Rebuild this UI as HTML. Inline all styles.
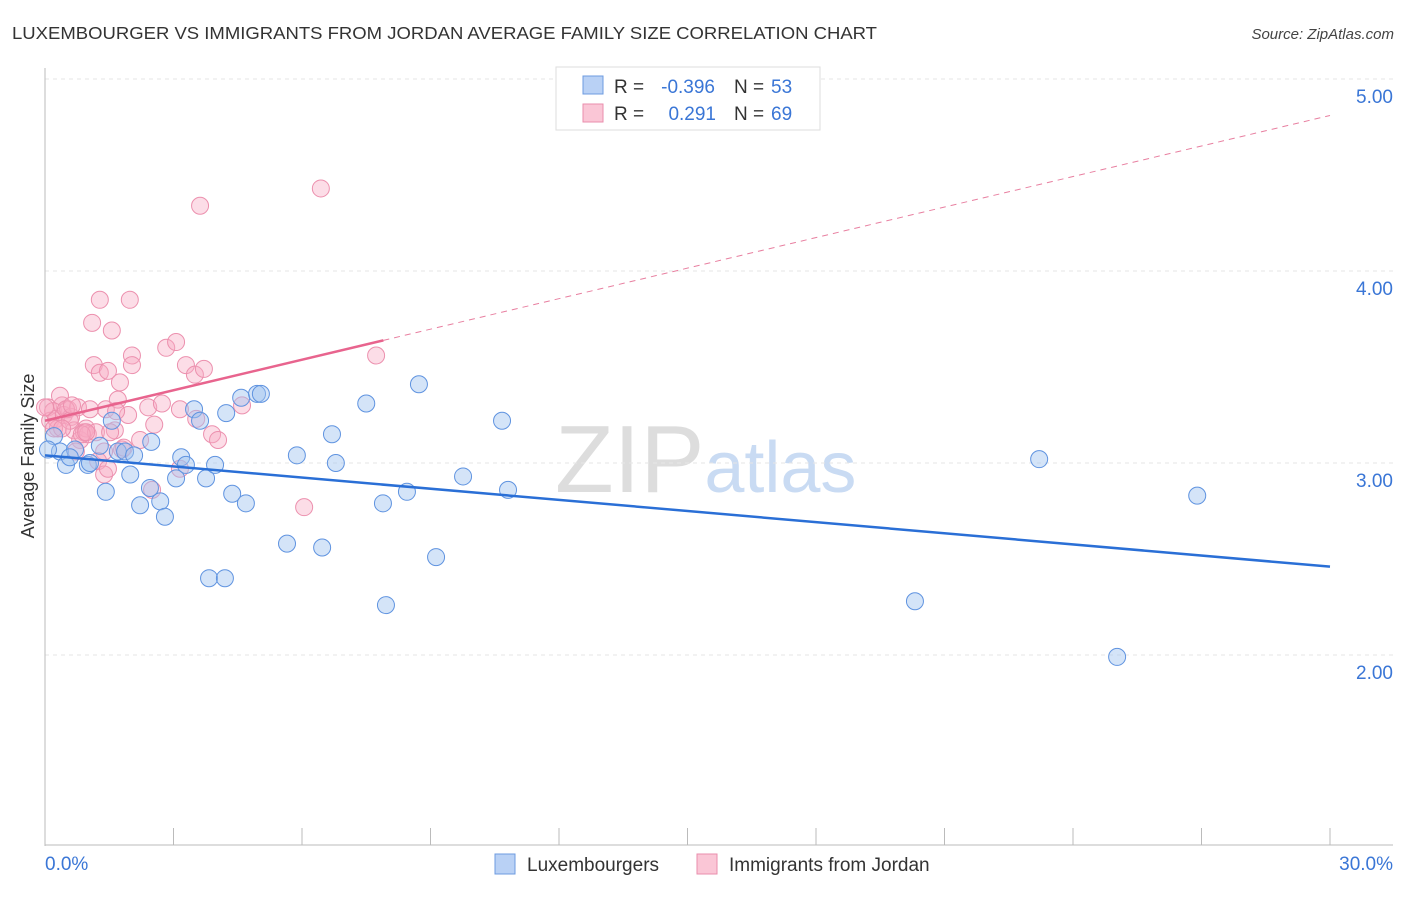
<!DOCTYPE html>
<html><head><meta charset="utf-8"><style>
body{margin:0;background:#fff;font-family:"Liberation Sans",sans-serif;}
svg text{font-family:"Liberation Sans",sans-serif;}
</style></head><body>
<svg id="chart" width="1406" height="892" xmlns="http://www.w3.org/2000/svg">
<text x="12" y="39" font-size="17.5" fill="#333" textLength="865" lengthAdjust="spacingAndGlyphs">LUXEMBOURGER VS IMMIGRANTS FROM JORDAN AVERAGE FAMILY SIZE CORRELATION CHART</text>
<text x="1394" y="39" font-size="15" fill="#444" font-style="italic" text-anchor="end">Source: ZipAtlas.com</text>
<text x="555" y="492" font-size="96" fill="#ddd" font-family="Liberation Serif">ZIP<tspan fill="#c9dbf3" font-family="Liberation Sans" font-size="72">atlas</tspan></text>
<g id="grid"></g><g id="axes"></g><g id="marks"></g>
<text transform="translate(34,456) rotate(-90)" font-size="18" fill="#333" text-anchor="middle">Average Family Size</text>
<g>
<rect x="556" y="67" width="264" height="63" fill="#fff" stroke="#ddd"/>
<rect x="583" y="76" width="20" height="18" fill="#b9d1f5" stroke="#6d9be0"/>
<rect x="583" y="104" width="20" height="18" fill="#fac6d6" stroke="#ea8eac"/>
<text x="614" y="93" font-size="19" fill="#333">R =</text>
<text x="715" y="93" font-size="19" fill="#3a76d6" text-anchor="end">-0.396</text>
<text x="734" y="93" font-size="19" fill="#333">N =</text>
<text x="771" y="93" font-size="19" fill="#3a76d6">53</text>
<text x="614" y="120" font-size="19" fill="#333">R =</text>
<text x="716" y="120" font-size="19" fill="#3a76d6" text-anchor="end">0.291</text>
<text x="734" y="120" font-size="19" fill="#333">N =</text>
<text x="771" y="120" font-size="19" fill="#3a76d6">69</text>
</g>
<g>
<rect x="495" y="854" width="20" height="20" fill="#b9d1f5" stroke="#6d9be0"/>
<text x="527" y="871" font-size="19" fill="#333">Luxembourgers</text>
<rect x="697" y="854" width="20" height="20" fill="#fac6d6" stroke="#ea8eac"/>
<text x="729" y="871" font-size="19" fill="#333">Immigrants from Jordan</text>
</g>
</svg>
<script>
const blueX=[0.21,0.35,0.49,0.70,1.00,1.28,1.42,1.56,1.70,1.87,1.99,2.08,2.22,2.48,2.69,2.80,3.06,3.18,3.29,3.48,3.76,3.97,4.23,4.37,4.58,4.69,4.95,5.04,3.83,4.20,5.65,5.88,6.47,6.70,6.79,7.50,7.89,7.96,8.45,8.73,9.13,9.76,10.67,10.81,20.31,23.21,25.03,26.90,0.07,0.58,1.05,2.45,3.62];
const blueY=[3.14,3.06,2.99,3.07,2.99,3.09,2.85,3.22,3.06,3.06,2.94,3.04,2.78,3.11,2.80,2.72,2.92,3.03,2.99,3.28,2.92,2.99,3.26,2.84,3.34,2.79,3.36,3.36,2.40,2.40,2.58,3.04,2.56,3.15,3.00,3.31,2.79,2.26,2.85,3.41,2.51,2.93,3.22,2.86,2.28,3.02,1.99,2.83,3.07,3.03,3.00,2.87,3.22];
const pinkX=[0.07,0.12,0.19,0.26,0.30,0.40,0.44,0.54,0.61,0.68,0.77,0.82,0.91,0.96,1.00,1.10,1.14,1.19,1.28,1.28,1.38,1.42,1.47,1.56,1.63,1.70,1.75,1.80,1.94,1.98,2.03,2.03,2.22,2.41,2.50,2.55,2.73,2.83,3.06,3.15,3.29,3.50,3.53,3.62,3.71,3.90,4.04,4.60,6.05,6.44,7.73,0.35,0.49,0.58,0.72,0.86,1.24,1.38,1.47,1.84,1.52,1.05,0.21,0.0,0.40,0.63,0.96,1.66,3.15];
const pinkY=[3.29,3.22,3.27,3.23,3.18,3.30,3.25,3.28,3.24,3.17,3.29,3.12,3.16,3.18,3.15,3.73,3.51,3.16,3.85,3.47,3.06,3.28,3.48,3.69,3.17,3.33,3.42,3.07,3.25,3.85,3.56,3.51,3.12,3.29,2.86,3.20,3.31,3.60,3.63,3.28,3.51,3.46,3.23,4.34,3.49,3.15,3.12,3.30,2.77,4.43,3.56,3.35,3.28,3.22,3.06,3.15,3.01,2.94,2.97,3.08,3.16,3.28,3.18,3.29,3.18,3.30,3.16,3.27,2.97];
const blueTrend=[3.04,2.46];
const pinkTrend=[3.22,4.81];
const pinkSolidEnd=7.9;
const yTicks=[2,3,4,5];
const yTickLabels=["2.00","3.00","4.00","5.00"];
const xTicks=[0,3,6,9,12,15,18,21,24,27,30];

const NS="http://www.w3.org/2000/svg";
const sx=v=>45+v/30*1285;
const sy=v=>463-(v-3)*192;
function mk(tag,attrs,parent){const e=document.createElementNS(NS,tag);for(const k in attrs)e.setAttribute(k,attrs[k]);parent.appendChild(e);return e;}
const grid=document.getElementById('grid'),axes=document.getElementById('axes'),marks=document.getElementById('marks');
yTicks.forEach((t,i)=>{
 const l=mk('line',{x1:45,x2:1393,y1:sy(t),y2:sy(t),stroke:'#e6e6e6','stroke-dasharray':'4,4'},grid);
 
 
 const tx=mk('text',{x:1393,y:sy(t)+24,'font-size':19,fill:'#3a76d6','text-anchor':'end'},axes);
 tx.textContent=yTickLabels[i];
 
 
});
const ya=mk('line',{x1:45,x2:45,y1:68,y2:846,stroke:'#bbb'},axes);


const xa=mk('line',{x1:45,x2:1393,y1:845,y2:845,stroke:'#bbb'},axes);


xTicks.forEach(t=>{
 const l=mk('line',{x1:sx(t),x2:sx(t),y1:828,y2:845,stroke:'#bbb'},axes);
 
 
});
const xl0=mk('text',{x:45,y:870,'font-size':19,fill:'#3a76d6'},axes);xl0.textContent=xTicks[0].toFixed(1)+'%';


const xl1=mk('text',{x:1393,y:870,'font-size':19,fill:'#3a76d6','text-anchor':'end'},axes);xl1.textContent=xTicks[xTicks.length-1].toFixed(1)+'%';



pinkX.forEach((x,i)=>{
 const c=mk('circle',{cx:sx(x),cy:sy(pinkY[i]),r:8.5,fill:'rgba(248,170,195,0.4)',stroke:'#ec90ae','stroke-width':1},marks);
 
 
});
blueX.forEach((x,i)=>{
 const c=mk('circle',{cx:sx(x),cy:sy(blueY[i]),r:8.5,fill:'rgba(160,195,240,0.45)',stroke:'#5f93e0','stroke-width':1},marks);
 
 
});
const pAt=x=>pinkTrend[0]+(pinkTrend[1]-pinkTrend[0])*x/30;
const pd=mk('line',{x1:sx(pinkSolidEnd),y1:sy(pAt(pinkSolidEnd)),x2:sx(30),y2:sy(pinkTrend[1]),stroke:'#e87fa0','stroke-width':1,'stroke-dasharray':'6,5'},marks);


const ps=mk('line',{x1:sx(0),y1:sy(pinkTrend[0]),x2:sx(pinkSolidEnd),y2:sy(pAt(pinkSolidEnd)),stroke:'#e8648e','stroke-width':2.5},marks);


const bt=mk('line',{x1:sx(0),y1:sy(blueTrend[0]),x2:sx(30),y2:sy(blueTrend[1]),stroke:'#2a6fd6','stroke-width':2.5},marks);


</script>
</body></html>
